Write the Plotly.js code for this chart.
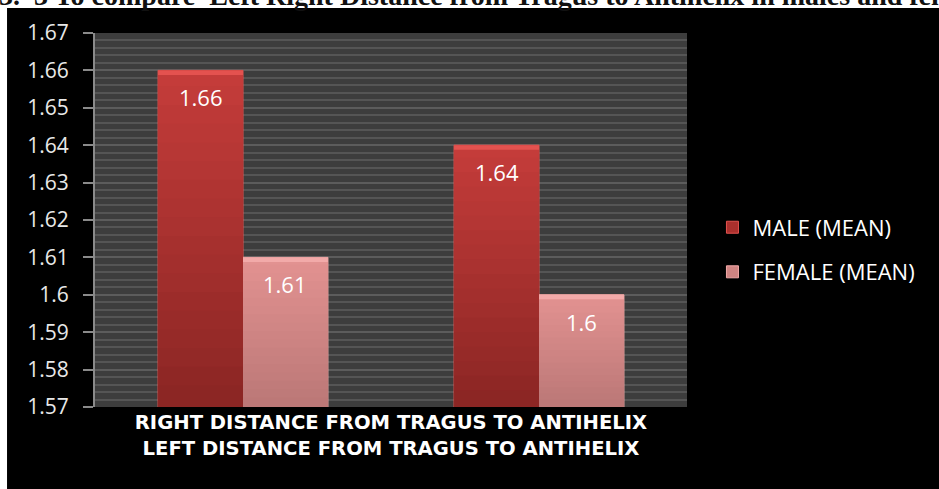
<!DOCTYPE html>
<html>
<head>
<meta charset="utf-8">
<script src="https://cdn.plot.ly/plotly-3.0.1.min.js"></script>
<style>
  html, body { margin: 0; padding: 0; background: #ffffff; }
  #chart { width: 939px; height: 489px; }
</style>
</head>
<body>
<div id="chart"></div>
<script>
// Mean distance from tragus to antihelix (right and left ear), by sex
const categories = ['RIGHT DISTANCE FROM TRAGUS TO ANTIHELIX', 'LEFT DISTANCE FROM TRAGUS TO ANTIHELIX'];
const seriesNames = ['MALE (MEAN)', 'FEMALE (MEAN)'];
const maleMean = [1.66, 1.64];
const femaleMean = [1.61, 1.60];
const yTicks = [1.57, 1.58, 1.59, 1.60, 1.61, 1.62, 1.63, 1.64, 1.65, 1.66, 1.67];
const yTickLabels = ['1.57', '1.58', '1.59', '1.6', '1.61', '1.62', '1.63', '1.64', '1.65', '1.66', '1.67'];
const headingText = '3.  3 To compare  Left Right Distance from Tragus to Antihelix in males and females';

const seriesValues = [maleMean, femaleMean];
const bodyColors = ['#ab302d', '#cf8482'];
const edgeColors = ['#e4524f', '#f2aaa9'];
const topColors = [[196, 60, 58], [226, 146, 145]];
const bottomColors = [[140, 38, 36], [188, 120, 119]];
const bargap = 0.426;
const barW = (1 - bargap) / 2;
const idx = categories.map((_, i) => i);
const yMin = yTicks[0];
const yMax = yTicks[yTicks.length - 1];
const sans = 'Open Sans, sans-serif';

const traces = seriesValues.map((vals, t) => ({
  type: 'bar',
  name: seriesNames[t],
  x: idx,
  y: vals,
  marker: { color: bodyColors[t], line: { color: edgeColors[t], width: 1 } },
  legendgroup: 'g' + t,
  hoverinfo: 'y'
}));

function mix(a, b, f) {
  return 'rgb(' + a.map((c, k) => Math.round(c + (b[k] - c) * f)).join(',') + ')';
}

// vertical shading, bevel highlight on each bar top, and value labels inside the bars
const shapes = [];
const annotations = [];
const bands = 18;
seriesValues.forEach((vals, t) => {
  vals.forEach((v, i) => {
    const x0 = i + (t - 1) * barW;
    const h = (v - yMin) / bands;
    for (let k = 0; k < bands; k++) {
      shapes.push({
        type: 'rect', xref: 'x', yref: 'y',
        x0: x0, x1: x0 + barW,
        y0: v - (k + 1) * h, y1: v - k * h + (k ? h * 0.15 : 0),
        fillcolor: mix(topColors[t], bottomColors[t], k / (bands - 1)),
        line: { width: 0 }, layer: 'above'
      });
    }
    shapes.push({
      type: 'rect', xref: 'x', yref: 'y',
      x0: x0, x1: x0 + barW, y0: v - 0.0012, y1: v,
      fillcolor: edgeColors[t], line: { width: 0 }, layer: 'above'
    });
    annotations.push({
      xref: 'x', yref: 'y', x: x0 + barW / 2, y: v,
      yanchor: 'middle', yshift: -27, showarrow: false,
      text: String(v), font: { family: sans, size: 22, color: '#ffffff' }
    });
  });
});

// heading line, clipped at the top edge of the page
annotations.push({
  xref: 'paper', yref: 'paper', x: -0.165, y: 1, xanchor: 'left', yanchor: 'bottom',
  yshift: 20, showarrow: false, text: '<b>' + headingText + '</b>',
  font: { family: 'Liberation Serif, serif', size: 28, color: '#111111' }
});

// black panel behind the chart, then the striped plot area
shapes.unshift(
  { type: 'rect', xref: 'paper', yref: 'paper', x0: -0.1486, x1: 1.43, y0: -0.23, y1: 1.0668,
    fillcolor: '#000000', line: { width: 0 }, layer: 'below' },
  { type: 'rect', xref: 'x domain', yref: 'y domain', x0: 0, x1: 1, y0: 0, y1: 1,
    fillcolor: '#3d3d3d', line: { width: 0 }, layer: 'below' }
);

const layout = {
  width: 939, height: 489,
  margin: { l: 95, r: 252, t: 33, b: 82 },
  paper_bgcolor: '#ffffff',
  plot_bgcolor: '#3d3d3d',
  barmode: 'group', bargap: bargap, bargroupgap: 0,
  showlegend: true,
  legend: {
    x: 1.043, y: 0.42, xanchor: 'left', yanchor: 'middle',
    bgcolor: 'rgba(0,0,0,0)', tracegroupgap: 13, traceorder: 'grouped',
    font: { family: sans, size: 22, color: '#ffffff' }
  },
  xaxis: {
    type: 'category', range: [-0.5, 1.5],
    showticklabels: false, ticks: '', showgrid: false, zeroline: false, showline: false,
    title: {
      text: '<b>' + categories.join('<br>') + '</b>', standoff: 8,
      font: { family: 'DejaVu Sans, sans-serif', size: 19.6, color: '#ffffff' }
    }
  },
  yaxis: {
    range: [yMin, yMax], tickvals: yTicks, ticktext: yTickLabels,
    showline: true, linecolor: '#8a8a8a', linewidth: 2,
    ticks: 'outside', ticklen: 10, tickcolor: '#8a8a8a', tickwidth: 2,
    ticklabelstandoff: 10,
    showgrid: true, gridcolor: '#5c5c5c', gridwidth: 2,
    minor: { dtick: 0.002, showgrid: true, gridcolor: '#555555', gridwidth: 2 },
    zeroline: false,
    tickfont: { family: sans, size: 21, color: '#e8e8e8' }
  },
  shapes: shapes,
  annotations: annotations
};

Plotly.newPlot('chart', traces, layout, { displayModeBar: false, staticPlot: true });
</script>
</body>
</html>
